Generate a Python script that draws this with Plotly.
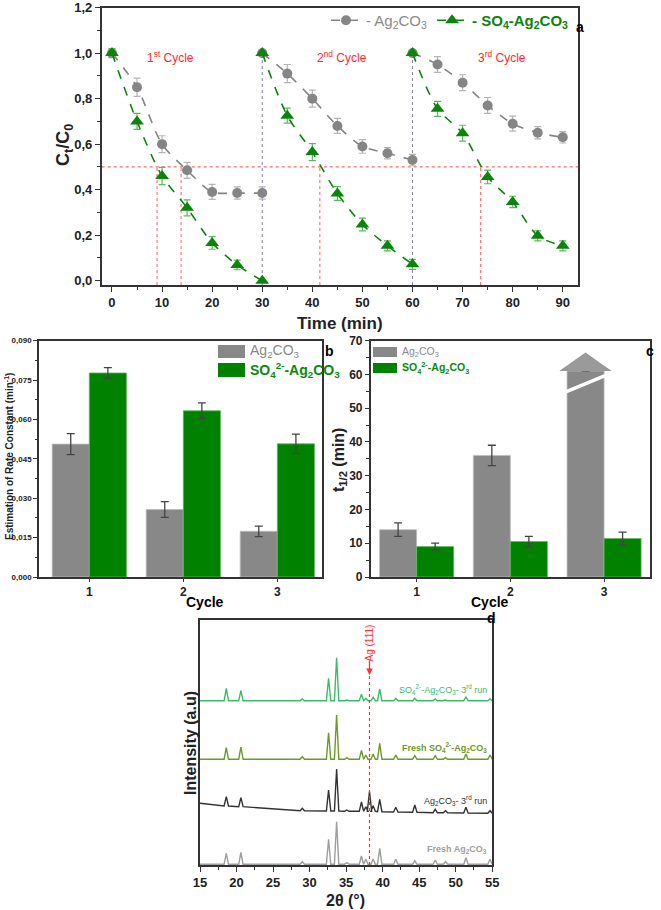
import plotly.graph_objects as go

# ---------------- DATA ----------------
# Panel a: photocatalytic cycles
time_c1 = [0, 5, 10, 15, 20, 25, 30]
time_c2 = [30, 35, 40, 45, 50, 55, 60]
time_c3 = [60, 65, 70, 75, 80, 85, 90]
ag_c1 = [1.0, 0.85, 0.60, 0.485, 0.39, 0.385, 0.385]
ag_c2 = [1.0, 0.91, 0.80, 0.68, 0.59, 0.56, 0.53]
ag_c3 = [1.0, 0.95, 0.87, 0.77, 0.69, 0.65, 0.63]
ag_err_c1 = [0.0, 0.04, 0.037, 0.035, 0.033, 0.027, 0.027]
ag_err_c2 = [0.0, 0.04, 0.037, 0.033, 0.03, 0.025, 0.025]
ag_err_c3 = [0.0, 0.035, 0.035, 0.035, 0.033, 0.027, 0.025]
so4_c1 = [1.0, 0.70, 0.46, 0.32, 0.166, 0.069, 0.0]
so4_c2 = [1.0, 0.725, 0.565, 0.383, 0.247, 0.153, 0.072]
so4_c3 = [1.0, 0.755, 0.648, 0.456, 0.346, 0.197, 0.153]
so4_err_c1 = [0.02, 0.035, 0.038, 0.035, 0.028, 0.021, 0.0]
so4_err_c2 = [0.0, 0.033, 0.037, 0.03, 0.028, 0.022, 0.022]
so4_err_c3 = [0.0, 0.033, 0.035, 0.03, 0.025, 0.022, 0.022]
half_life_marks = [9.0, 13.8, 41.5, 73.6]
cycle_starts = [30, 60]
cycle_labels = ["1<sup>st</sup> Cycle", "2<sup>nd</sup> Cycle", "3<sup>rd</sup> Cycle"]
cycle_label_x = [11.7, 45.9, 77.9]

# Panel b: rate constants
cycles = [1, 2, 3]
k_ag = [0.0506, 0.0257, 0.0174]
k_ag_err = [0.004, 0.003, 0.002]
k_so4 = [0.0777, 0.0633, 0.0507]
k_so4_err = [0.002, 0.003, 0.0037]

# Panel c: half-life
t_ag = [14.0, 36.0, 61.0]
t_ag_err = [2.0, 3.0, 0.0]
t_so4 = [9.0, 10.5, 11.4]
t_so4_err = [1.0, 1.5, 1.9]
t_break = [55.0, 59.4]

# Panel d: XRD peaks (2theta) and read intensities
peaks = [18.6, 20.6, 27.5, 29.0, 32.6, 33.7, 35.1, 37.1, 37.7, 38.2, 38.7, 39.6,
         41.8, 44.4, 47.2, 48.6, 51.4, 54.7]
so4_run3_base = [164.3] * 18
so4_run3_top = [176.7, 174.3, 164.8, 166.0, 186.7, 207.3, 165.0, 170.7, 166.7, 164.3,
                167.7, 176.0, 166.7, 166.7, 166.0, 165.0, 168.0, 166.0]
so4_fresh_base = [105.7] * 18
so4_fresh_top = [117.3, 118.0, 106.2, 108.3, 132.3, 150.0, 107.4, 114.7, 110.0, 105.7,
                 111.0, 121.7, 110.0, 109.4, 109.4, 107.4, 111.0, 110.0]
ag_run3_base = [59.0, 58.3, 55.0, 54.3, 54.0, 54.0, 53.7, 53.7, 53.7, 53.7, 53.7, 53.3,
                53.0, 52.7, 52.3, 52.3, 52.0, 51.7]
ag_run3_top = [68.3, 67.3, 55.3, 56.7, 75.0, 96.0, 55.0, 63.0, 58.3, 73.3, 59.3, 65.7,
               57.7, 60.0, 55.7, 54.3, 57.7, 54.3]
ag_run3_ends = [61.7, 51.7]
ag_fresh_base = [0.7] * 18
ag_fresh_top = [11.7, 12.7, 1.0, 3.3, 25.7, 43.3, 2.3, 9.0, 5.7, 0.7, 6.0, 16.7,
                5.7, 4.3, 5.0, 3.3, 7.3, 5.7]
ag111_pos = 38.2
ag111_top = 190

# ---------------- STYLE ----------------
FONT = "Liberation Sans, Arial, sans-serif"
GRAY = "#858585"
GREEN = "#0a850a"
AXC = "#333333"
BAR_GRAY = "#888888"
BAR_GREEN = "#008200"

W, H = 661, 910


def px(x):
    return x / W


def py(y):
    return 1 - y / H


fig = go.Figure()

# ---- Panel a
def add_cycle(x, y, err, color, ecolor, symbol, size, name, show):
    fig.add_trace(go.Scatter(
        x=x, y=y, mode="lines+markers", name=name, showlegend=show,
        legendgroup=name, legend="legend",
        line=dict(color=color, dash="dash", width=1.6, shape="spline", smoothing=0.8),
        marker=dict(color=color, symbol=symbol, size=size),
        error_y=dict(type="data", array=err, color=ecolor, thickness=1.2, width=3.5),
        xaxis="x", yaxis="y"))


ag_name = "<span style='color:#8a8a8a'>- Ag<sub>2</sub>CO<sub>3</sub></span>"
so4_name = "<span style='color:#0a850a'><b>- SO<sub>4</sub>-Ag<sub>2</sub>CO<sub>3</sub></b></span>"
for i, (x, y, e) in enumerate([(time_c1, ag_c1, ag_err_c1), (time_c2, ag_c2, ag_err_c2),
                               (time_c3, ag_c3, ag_err_c3)]):
    add_cycle(x, y, e, GRAY, "#b5b5b5", "circle", 10, ag_name, i == 0)
for i, (x, y, e) in enumerate([(time_c1, so4_c1, so4_err_c1), (time_c2, so4_c2, so4_err_c2),
                               (time_c3, so4_c3, so4_err_c3)]):
    add_cycle(x, y, e, GREEN, "#5cb85c", "triangle-up", 12, so4_name, i == 0)

shapes = []
ya_min = -0.019
shapes.append(dict(type="line", xref="x domain", yref="y", x0=0, x1=1, y0=0.5, y1=0.5,
                   line=dict(color="#ff6b6b", width=1.1, dash="dot"), layer="below"))
for t in half_life_marks:
    shapes.append(dict(type="line", xref="x", yref="y", x0=t, x1=t, y0=ya_min, y1=0.5,
                       line=dict(color="#ff6b6b", width=1.1, dash="dot"), layer="below"))
for t in cycle_starts:
    shapes.append(dict(type="line", xref="x", yref="y", x0=t, x1=t, y0=ya_min, y1=1.0,
                       line=dict(color="#8a8aa8", width=1.1, dash="dot"), layer="below"))

annotations = []
for lab, lx in zip(cycle_labels, cycle_label_x):
    annotations.append(dict(x=lx, y=0.985, xref="x", yref="y", text=lab, showarrow=False,
                            font=dict(family=FONT, size=12, color="#ff2a2a")))

# ---- Panel b
offset = 0.1985
fig.add_trace(go.Bar(x=cycles, y=k_ag, showlegend=False,
                     marker=dict(color=BAR_GRAY, line=dict(color="#bdbdbd", width=0.8)),
                     error_y=dict(type="data", array=k_ag_err, color="#444444", thickness=1.3, width=4),
                     xaxis="x2", yaxis="y2", offsetgroup="ag"))
fig.add_trace(go.Bar(x=cycles, y=k_so4, showlegend=False,
                     marker=dict(color=BAR_GREEN, line=dict(color="#5fb85f", width=0.8)),
                     error_y=dict(type="data", array=k_so4_err, color="#444444", thickness=1.3, width=4),
                     xaxis="x2", yaxis="y2", offsetgroup="so4"))

# ---- Panel c
fig.add_trace(go.Bar(x=cycles, y=t_ag, showlegend=False,
                     marker=dict(color=BAR_GRAY, line=dict(color="#bdbdbd", width=0.8)),
                     error_y=dict(type="data", array=t_ag_err, color="#444444", thickness=1.3, width=4),
                     xaxis="x3", yaxis="y3", offsetgroup="ag"))
fig.add_trace(go.Bar(x=cycles, y=t_so4, showlegend=False,
                     marker=dict(color=BAR_GREEN, line=dict(color="#5fb85f", width=0.8)),
                     error_y=dict(type="data", array=t_so4_err, color="#444444", thickness=1.3, width=4),
                     xaxis="x3", yaxis="y3", offsetgroup="so4"))
# arrow on off-scale bar (cycle 3) and break mark
xc = cycles[2] - offset
base = t_ag[2]
shapes.append(dict(type="path", xref="x3", yref="y3",
                   path=f"M {xc-0.28},{base} L {xc+0.28},{base} L {xc},{base+5.5} Z",
                   fillcolor="#9a9a9a", line=dict(width=0)))
shapes.append(dict(type="line", xref="x3", yref="y3", x0=xc - 0.21, x1=xc + 0.21,
                   y0=t_break[0] - 0.2, y1=t_break[1] + 0.2, line=dict(color="white", width=3.5)))

# manual legends for panels b and c
ag_lbl = "Ag<sub>2</sub>CO<sub>3</sub>"
so4_lbl = "<b>SO<sub>4</sub><sup>2-</sup>-Ag<sub>2</sub>CO<sub>3</sub></b>"
for (x0, x1, ya, yb, yc, yd, tx, fs) in [
    (218, 245, 345, 358, 363, 377, 248, 14),
    (373, 397, 347, 357, 363, 373, 400, 10.5),
]:
    shapes.append(dict(type="rect", xref="paper", yref="paper", x0=px(x0), x1=px(x1),
                       y0=py(yb), y1=py(ya), fillcolor=BAR_GRAY, line=dict(width=0)))
    shapes.append(dict(type="rect", xref="paper", yref="paper", x0=px(x0), x1=px(x1),
                       y0=py(yd), y1=py(yc), fillcolor=BAR_GREEN, line=dict(width=0)))
    annotations.append(dict(x=px(tx), y=py((ya + yb) / 2), xref="paper", yref="paper", text=ag_lbl,
                            xanchor="left", yanchor="middle", showarrow=False,
                            font=dict(family=FONT, size=fs, color="#8a8a8a")))
    annotations.append(dict(x=px(tx), y=py((yc + yd) / 2), xref="paper", yref="paper", text=so4_lbl,
                            xanchor="left", yanchor="middle", showarrow=False,
                            font=dict(family=FONT, size=fs, color="#0a8a0a")))

# ---- Panel d
def pattern(base_list, top_list, ends, w=0.3):
    xs = [15.0]
    ys = [ends[0]]
    for p, b, t in zip(peaks, base_list, top_list):
        xs += [p - w, p, p + w]
        ys += [b, t, b]
    xs.append(55.0)
    ys.append(ends[1])
    return xs, ys


for bl, tl, ends, col in [
    (ag_fresh_base, ag_fresh_top, [0.7, 0.7], "#9e9e9e"),
    (ag_run3_base, ag_run3_top, ag_run3_ends, "#333333"),
    (so4_fresh_base, so4_fresh_top, [105.7, 105.7], "#6b9a2c"),
    (so4_run3_base, so4_run3_top, [164.3, 164.3], "#3dbb6a"),
]:
    xs, ys = pattern(bl, tl, ends)
    fig.add_trace(go.Scatter(x=xs, y=ys, mode="lines", line=dict(color=col, width=1.4),
                             showlegend=False, xaxis="x4", yaxis="y4"))

shapes.append(dict(type="line", xref="x4", yref="y4", x0=ag111_pos, x1=ag111_pos, y0=0, y1=ag111_top,
                   line=dict(color="#ff3030", width=1.2, dash="dot")))
annotations.append(dict(x=ag111_pos, y=ag111_top, xref="x4", yref="y4", ax=0, ay=-16, text="",
                        showarrow=True, arrowhead=2, arrowsize=1, arrowwidth=1.3, arrowcolor="#ff3030"))
annotations.append(dict(x=ag111_pos, y=222, xref="x4", yref="y4", text="Ag (111)", textangle=-90,
                        showarrow=False, font=dict(family=FONT, size=10, color="#ff3030")))

d_labels = [
    ("SO<sub>4</sub><sup>2-</sup>-Ag<sub>2</sub>CO<sub>3</sub>- 3<sup>rd</sup> run", 176, "#3dbb6a"),
    ("<b>Fresh SO<sub>4</sub><sup>2-</sup>-Ag<sub>2</sub>CO<sub>3</sub></b>", 118, "#6b9a2c"),
    ("Ag<sub>2</sub>CO<sub>3</sub>- 3<sup>rd</sup> run", 65, "#333333"),
    ("<b>Fresh Ag<sub>2</sub>CO<sub>3</sub></b>", 16, "#a0a0a0"),
]
for txt, yy, col in d_labels:
    annotations.append(dict(x=54.6, y=yy, xref="x4", yref="y4", text=txt, showarrow=False,
                            xanchor="right", font=dict(family=FONT, size=9, color=col)))

# panel letters, axis titles, Cycle titles
for txt, lx, ly in [("a", 586, 17), ("b", 329, 351), ("c", 656, 351), ("d", 498, 628)]:
    annotations.append(dict(x=px(lx), y=py(ly), xref="paper", yref="paper", text=f"<b>{txt}</b>",
                            showarrow=False, font=dict(family=FONT, size=14, color="black")))
for lx in [183.5, 510.5]:
    annotations.append(dict(x=px(lx), y=py(612), xref="paper", yref="paper", text="<b>Cycle</b>",
                            showarrow=False, font=dict(family=FONT, size=14, color="black")))
axis_titles = [
    ("<b>Time (min)</b>", 340, 323, 0, 17),
    ("<b>C<sub>t</sub>/C<sub>0</sub></b>", 64, 145, -90, 18),
    ("<b>Estimation of Rate Constant (min<sup>-1</sup>)</b>", 9, 457, -90, 10),
    ("<b>t<sub>1/2</sub> (min)</b>", 339, 460, -90, 16),
    ("<b>Intensity (a.u)</b>", 190, 743, -90, 16),
    ("<b>2θ (°)</b>", 345, 900, 0, 16),
]
for txt, lx, ly, ang, fs in axis_titles:
    annotations.append(dict(x=px(lx), y=py(ly), xref="paper", yref="paper", text=txt, textangle=ang,
                            showarrow=False, xanchor="center", yanchor="middle",
                            font=dict(family=FONT, size=fs, color="#222222")))

axis_common = dict(showline=True, linecolor=AXC, linewidth=1.5, mirror=True, ticks="outside",
                   tickcolor=AXC, tickwidth=1.3, showgrid=False, zeroline=False, automargin=False,
                   ticklabeloverflow="allow")

fig.update_layout(
    width=W, height=H, margin=dict(l=0, r=0, t=0, b=0, autoexpand=False),
    plot_bgcolor="white", paper_bgcolor="white",
    separators=",.", barmode="group", bargap=0.21, bargroupgap=0,
    font=dict(family=FONT, color="#222222"),
    shapes=shapes, annotations=annotations,
    xaxis=dict(domain=[px(101.7), px(578.3)], range=[-2.05, 93.1], dtick=10, tick0=0,
               ticklen=5, minor=dict(dtick=5, ticks="outside", ticklen=3, tickcolor=AXC),
               tickfont=dict(size=13, weight="bold"), anchor="y", **axis_common),
    yaxis=dict(domain=[py(285), py(7.5)], range=[ya_min, 1.2005], dtick=0.2, tickformat=".1f",
               ticklen=5, minor=dict(dtick=0.1, ticks="outside", ticklen=3, tickcolor=AXC),
               tickfont=dict(size=13, weight="bold"), anchor="x", **axis_common),
    xaxis2=dict(domain=[px(39), px(322)], range=[0.465, 3.475], tickvals=cycles, ticklen=3,
                tickfont=dict(size=12, weight="bold"), anchor="y2", **axis_common),
    yaxis2=dict(domain=[py(577), py(340.5)], range=[0, 0.09005], dtick=0.015, tickformat=".3f",
                ticklen=4, minor=dict(dtick=0.0075, ticks="outside", ticklen=2.5, tickcolor=AXC),
                tickfont=dict(size=8, weight="bold"), anchor="x2", **axis_common),
    xaxis3=dict(domain=[px(370.7), px(650)], range=[0.51, 3.49], tickvals=cycles, ticklen=3,
                tickfont=dict(size=12, weight="bold"), anchor="y3", **axis_common),
    yaxis3=dict(domain=[py(577), py(340.5)], range=[0, 70.02], dtick=10,
                ticklen=4, minor=dict(dtick=5, ticks="outside", ticklen=2.5, tickcolor=AXC),
                tickfont=dict(size=12, weight="bold"), anchor="x3", **axis_common),
    xaxis4=dict(domain=[px(200), px(492.3)], range=[15, 55.01], dtick=5, tick0=15, ticklen=5,
                minor=dict(dtick=2.5, ticks="outside", ticklen=3, tickcolor=AXC),
                tickfont=dict(size=13, weight="bold"), anchor="y4", **axis_common),
    yaxis4=dict(domain=[py(865), py(620)], range=[0, 245], showticklabels=False,
                showline=True, linecolor=AXC, linewidth=1.5, mirror=True, ticks="", showgrid=False,
                zeroline=False, automargin=False, anchor="x4"),
    legend=dict(x=px(574), y=py(4), xanchor="right", yanchor="top", orientation="h",
                bgcolor="rgba(0,0,0,0)", font=dict(size=15), itemwidth=30, tracegroupgap=0),
)

# remove the default 8px body margin so the 661x910 figure fills the window exactly
fig.write_html("out.html", config={"displayModeBar": False},
               post_script="document.body.style.margin='0';")
